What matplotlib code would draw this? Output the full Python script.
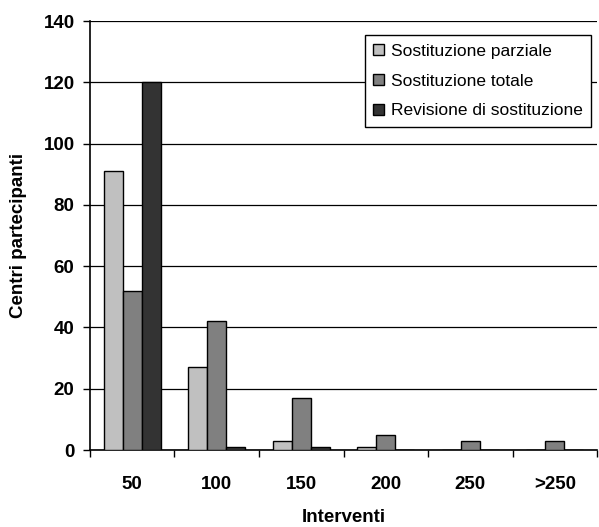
import numpy as np
import matplotlib
matplotlib.use("Agg")
from matplotlib import pyplot as plt

categories = ['50', '100', '150', '200', '250', '>250']
parziale = [91, 27, 3, 1, 0, 0]
totale = [52, 42, 17, 5, 3, 3]
revisione = [120, 1, 1, 0, 0, 0]
series_names = ['Sostituzione parziale', 'Sostituzione totale', 'Revisione di sostituzione']

plt.rcParams['font.family'] = ['Liberation Sans', 'DejaVu Sans']

fig = plt.figure(figsize=(5.99, 5.27), dpi=100)
ax = fig.add_axes([0.150, 0.146, 0.847, 0.814])

x = np.arange(len(categories))
width = 0.225
colors = ['#c0c0c0', '#808080', '#333333']
for i, (vals, name) in enumerate(zip([parziale, totale, revisione], series_names)):
    ax.bar(x + (i - 1) * width, vals, width, color=colors[i], edgecolor='black',
           linewidth=1.0, label=name, zorder=3)

ax.set_ylim(0, 140)
ax.set_yticks(np.arange(0, 141, 20))
ax.set_xlim(-0.5, len(categories) - 0.5)
ax.yaxis.grid(True, color='black', linewidth=0.9, zorder=0)
for tl in ax.get_yticklabels():
    tl.set_fontweight('bold')
ax.tick_params(axis='y', labelsize=13.5, length=5, width=1, pad=6)

# ticks at category boundaries, labels centred
ax.set_xticks(np.arange(-0.5, len(categories), 1.0))
ax.set_xticklabels([])
ax.set_xticks(x, minor=True)
ax.set_xticklabels(categories, minor=True, fontsize=13.5, fontweight='bold')
ax.tick_params(axis='x', which='major', length=5, width=1, direction='out')
ax.tick_params(axis='x', which='minor', length=0, pad=19)

ax.spines['top'].set_visible(False)
ax.spines['right'].set_visible(False)
ax.spines['left'].set_linewidth(1.2)
ax.spines['bottom'].set_linewidth(1.2)

ax.set_xlabel('Interventi', fontsize=13.5, fontweight='bold', labelpad=11)
ax.set_ylabel('Centri partecipanti', fontsize=13.5, fontweight='bold', labelpad=12)

leg = ax.legend(loc='upper right', bbox_to_anchor=(0.995, 0.975), fontsize=12.5,
                frameon=True, fancybox=False, edgecolor='black', framealpha=1,
                handlelength=0.6, handleheight=0.6, handletextpad=0.4,
                labelspacing=0.85, borderpad=0.5, borderaxespad=0.2)
leg.get_frame().set_linewidth(1.0)
leg.set_zorder(5)

fig.savefig('out.png', dpi=100)
